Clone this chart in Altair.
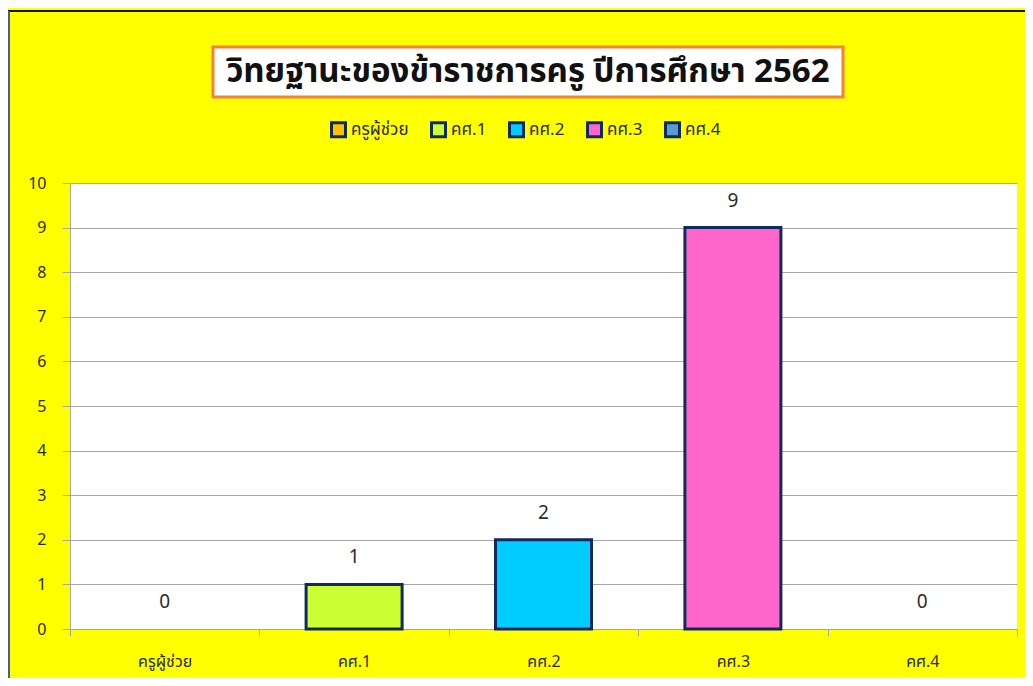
import altair as alt
import pandas as pd

categories = ["ครูผู้ช่วย", "คศ.1", "คศ.2", "คศ.3", "คศ.4"]
values = [0, 1, 2, 9, 0]
colors = ["#FFC000", "#CCFF33", "#00CCFF", "#FF66CC", "#5B9BD5"]
title_text = "วิทยฐานะของข้าราชการครู  ปีการศึกษา 2562"
y_ticks = list(range(0, 11))

FONT = "Tahoma, 'Noto Sans Thai', 'Noto Sans', sans-serif"
W, H = 947, 446
NAVY = "#0F2A5E"
GRID = "#A6A6A6"
TXT = "#2B2B2B"

df = pd.DataFrame({"cat": categories, "value": values})
one = pd.DataFrame({"k": [0]})

x_enc = alt.X(
    "cat:N", sort=categories,
    scale=alt.Scale(paddingInner=0, paddingOuter=0),
    axis=alt.Axis(title=None, labelAngle=0, labelFontSize=16, labelColor=TXT, labelFont=FONT,
                  domainColor=GRID, tickColor=GRID, tickSize=7, tickBand="extent",
                  labelPadding=17, grid=False),
)
y_enc = alt.Y(
    "value:Q",
    scale=alt.Scale(domain=[0, 10], nice=False),
    axis=alt.Axis(title=None, values=y_ticks, labelFontSize=16, labelColor=TXT, labelFont=FONT,
                  domainColor=GRID, tickColor=GRID, tickSize=8, labelPadding=16,
                  grid=True, gridColor=GRID, gridWidth=1),
)

bars = alt.Chart(df).mark_bar(size=96, stroke=NAVY).encode(
    x=x_enc, y=y_enc,
    strokeWidth=alt.condition(alt.datum.value > 0, alt.value(3), alt.value(0)),
    color=alt.Color("cat:N", sort=categories,
                    scale=alt.Scale(domain=categories, range=colors),
                    legend=alt.Legend(title=None, orient="none", legendX=260, legendY=-62,
                                      direction="horizontal", symbolType="square",
                                      symbolSize=196, symbolStrokeColor=NAVY,
                                      symbolStrokeWidth=3, symbolOpacity=1,
                                      labelFontSize=17, labelFont=FONT, labelColor=TXT,
                                      labelOffset=4, columnPadding=16)),
)

labels = alt.Chart(df).mark_text(dy=-27, fontSize=19, color=TXT, font=FONT, baseline="middle").encode(
    x=alt.X("cat:N", sort=categories), y="value:Q", text="value:Q"
)

title_box = alt.Chart(one).mark_rect(fill="white", stroke="#F0843C", strokeWidth=3).encode(
    x=alt.value(143), x2=alt.value(773), y=alt.value(-136), y2=alt.value(-86)
)
title_txt = alt.Chart(one).mark_text(fontSize=33, fontWeight="bold", color="#111111", font=FONT,
                                     baseline="middle", align="center").encode(
    x=alt.value(458), y=alt.value(-111), text=alt.value(title_text)
)
top_line = alt.Chart(one).mark_rule(color="#111111", strokeWidth=2).encode(
    x=alt.value(-62), x2=alt.value(960), y=alt.value(-172)
)
left_line = alt.Chart(one).mark_rule(color="#4A5D8C", strokeWidth=2).encode(
    x=alt.value(-61), y=alt.value(-172), y2=alt.value(500)
)

chart = alt.layer(title_box, title_txt, top_line, left_line, bars, labels).properties(
    width=W, height=H, background="#FFFF00",
    padding={"left": 62, "top": 175, "right": 8, "bottom": 49},
    autosize=alt.AutoSizeParams(type="none"),
).configure_view(fill="white", strokeWidth=0)

chart.save("out.html", embed_options={"renderer": "svg", "actions": False})
